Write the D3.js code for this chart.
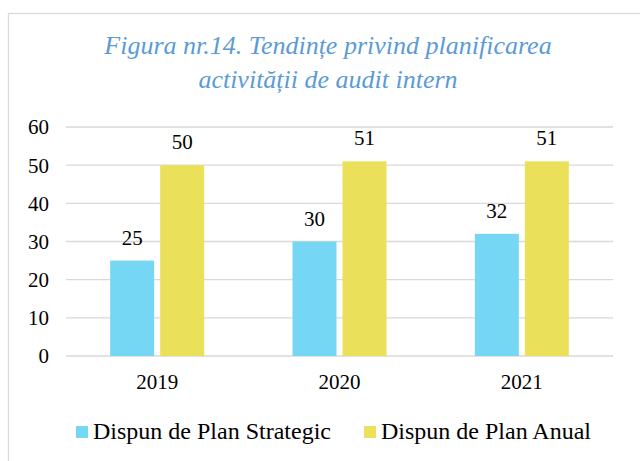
<!DOCTYPE html>
<html lang="en">
<head>
<meta charset="UTF-8">
<title>Figura nr.14</title>
<script src="https://d3js.org/d3.v7.min.js"></script>
<style>
    body { margin: 0; padding: 0; background: #fff; }
    svg { display: block; font-family: "Liberation Serif", "Times New Roman", serif; }
</style>
</head>
<body>
<svg id="chart" width="640" height="461"></svg>
<script>
    // data
    const years = ["2019", "2020", "2021"];
    const strategic = [25, 30, 32];
    const annual = [50, 51, 51];
    const seriesNames = ["Dispun de Plan Strategic", "Dispun de Plan Anual"];
    const yTicks = [0, 10, 20, 30, 40, 50, 60];
    const titleLines = ["Figura nr.14. Tendințe privind planificarea", "activității de audit intern"];

    const colors = ["#75D7F3", "#EBE05A"];
    const svg = d3.select("#chart");

    // outer frame
    svg.append("rect")
        .attr("x", 8.5).attr("y", 13.5)
        .attr("width", 640).attr("height", 460)
        .attr("fill", "#fff")
        .attr("stroke", "#d9d9d9").attr("stroke-width", 1.3);

    const margin = { left: 66, right: 27, top: 127, bottom: 105 };
    const width = 640 - margin.left - margin.right;
    const height = 461 - margin.top - margin.bottom;

    const g = svg.append("g").attr("transform", `translate(${margin.left},${margin.top})`);

    const x = d3.scaleBand().domain(years).range([0, width]);
    const inner = d3.scaleBand().domain([0, 1]).range([0, 94]).paddingInner(0.12);
    const y = d3.scaleLinear().domain([0, 60]).range([height, 0]);

    // gridlines
    g.selectAll(".grid")
        .data(yTicks)
        .enter().append("line")
        .attr("x1", 0).attr("x2", width)
        .attr("y1", d => y(d)).attr("y2", d => y(d))
        .attr("stroke", "#d9d9d9").attr("stroke-width", 1.3);

    // y labels
    g.selectAll(".ytick")
        .data(yTicks)
        .enter().append("text")
        .attr("x", -17).attr("y", d => y(d))
        .attr("dy", "0.35em")
        .attr("text-anchor", "end")
        .attr("font-size", 21)
        .attr("fill", "#000")
        .text(d => d);

    // x labels
    g.selectAll(".xtick")
        .data(years)
        .enter().append("text")
        .attr("x", d => x(d) + x.bandwidth() / 2)
        .attr("y", height + 33)
        .attr("text-anchor", "middle")
        .attr("font-size", 21)
        .text(d => d);

    const series = [strategic, annual];
    series.forEach(function (vals, i) {
        const grp = g.append("g");
        const off = (x.bandwidth() - 94) / 2;
        grp.selectAll("rect")
            .data(vals)
            .enter().append("rect")
            .attr("x", (d, j) => x(years[j]) + off + inner(i))
            .attr("y", d => y(d))
            .attr("width", inner.bandwidth())
            .attr("height", d => height - y(d))
            .attr("fill", colors[i]);
        grp.selectAll("text")
            .data(vals)
            .enter().append("text")
            .attr("x", (d, j) => x(years[j]) + off + inner(i) + inner.bandwidth() / 2)
            .attr("y", d => y(d) - 16)
            .attr("text-anchor", "middle")
            .attr("font-size", 21)
            .text(d => d);
    });

    // title
    svg.append("g").selectAll("text")
        .data(titleLines)
        .enter().append("text")
        .attr("x", 328)
        .attr("y", (d, i) => 54 + i * 34)
        .attr("text-anchor", "middle")
        .attr("font-size", 26)
        .attr("font-style", "italic")
        .attr("fill", "#5B9BD5")
        .text(d => d);

    // legend
    const legendX = [76, 364];
    const legend = svg.append("g").selectAll("g")
        .data(seriesNames)
        .enter().append("g")
        .attr("transform", (d, i) => `translate(${legendX[i]},426)`);
    legend.append("rect")
        .attr("width", 12).attr("height", 12)
        .attr("fill", (d, i) => colors[i]);
    legend.append("text")
        .attr("x", 17).attr("y", 13)
        .attr("font-size", 24)
        .text(d => d);
</script>
</body>
</html>
